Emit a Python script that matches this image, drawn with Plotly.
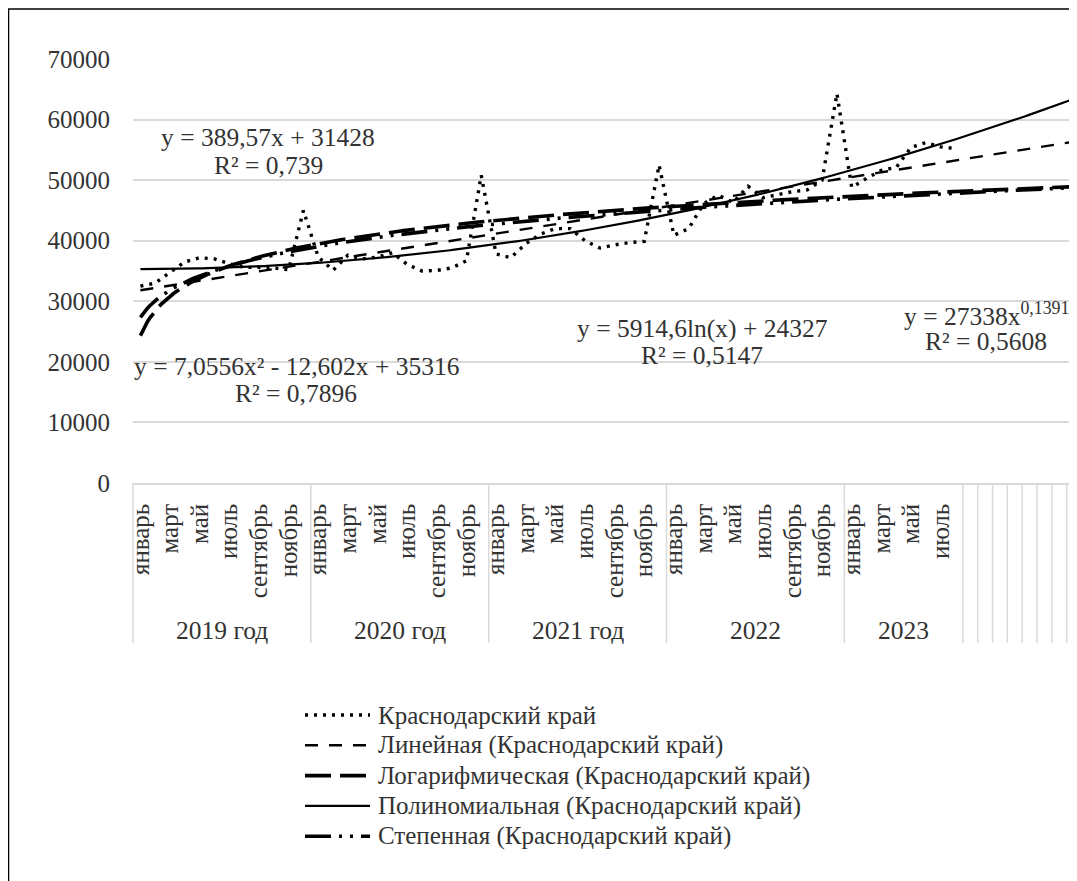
import numpy as np
import plotly.graph_objects as go

# данные: среднемесячные значения, Краснодарский край
years = ["2019 год", "2020 год", "2021 год", "2022", "2023"]
months = ["январь", "февраль", "март", "апрель", "май", "июнь",
          "июль", "август", "сентябрь", "октябрь", "ноябрь", "декабрь"]
values_2019 = [32500, 33000, 34800, 36500, 37200, 37000, 36200, 35600, 35600, 35500, 35200, 45000]
values_2020 = [37300, 35100, 37600, 37000, 37300, 38000, 36100, 35000, 35100, 35500, 36700, 50800]
values_2021 = [37800, 37200, 39500, 41100, 42000, 42000, 40000, 38800, 39300, 39700, 39900, 52500]
values_2022 = [40900, 42000, 46100, 47500, 46300, 49000, 47100, 47600, 48100, 48400, 50000, 64300]
values_2023 = [48800, 50300, 51600, 52100, 55400, 56200, 55500, 55200]
n_empty = 8  # пустые категории справа (прогнозный период)

# коэффициенты линий тренда (как подписаны на диаграмме)
lin_a, lin_b = 389.57, 31428
log_a, log_b = 5914.6, 24327
poly_a, poly_b, poly_c = 7.0556, -12.602, 35316
pow_a, pow_b = 27338, 0.1391

eq_lin = ["y = 389,57x + 31428", "R² = 0,739"]
eq_poly = ["y = 7,0556x² - 12,602x + 35316", "R² = 0,7896"]
eq_log = ["y = 5914,6ln(x) + 24327", "R² = 0,5147"]
eq_pow = ["y = 27338x<sup>0,1391</sup>", "R² = 0,5608"]

legend_names = ["Краснодарский край",
                "Линейная (Краснодарский край)",
                "Логарифмическая (Краснодарский край)",
                "Полиномиальная (Краснодарский край)",
                "Степенная (Краснодарский край)"]

groups = [values_2019, values_2020, values_2021, values_2022, values_2023]
values = [v for g in groups for v in g]
x = np.arange(1, len(values) + 1)

# страница сдвигает рисунок на 8px (отступ body), пересчитываем экранные пиксели
OFF = 8
W, H = 1077, 881
PLOT_L, PLOT_R, PLOT_T, PLOT_B = 133, 1077, 59, 483
ML, MT = PLOT_L - OFF, PLOT_T - OFF
MR = W - (PLOT_R - OFF)
MB = H - (PLOT_B - OFF)
PW, PH = PLOT_R - PLOT_L, PLOT_B - PLOT_T
X_MAX = 64.2

FONT = "Liberation Serif, Times New Roman, serif"
FS = 25.5
TXT = "#333333"
GRID = "#d9d9d9"


def px_x(p):
    return (p - PLOT_L) / PW


def px_y(p):
    return (PLOT_B - p) / PH


def cat_x(c):
    return (c - 0.5) / (X_MAX - 0.5)


styles = {
    "data": dict(color="black", width=3.4, dash="3px,6px"),
    "lin": dict(color="black", width=2.4, dash="13px,11px"),
    "log": dict(color="black", width=3.6, dash="26px,9px"),
    "poly": dict(color="black", width=2.2),
    "pow": dict(color="black", width=3.6, dash="26px,8px,3px,8px,3px,8px"),
}

xf = np.linspace(1, X_MAX, 400)
trend = {
    "lin": lin_a * xf + lin_b,
    "log": log_a * np.log(xf) + log_b,
    "poly": poly_a * xf ** 2 + poly_b * xf + poly_c,
    "pow": pow_a * xf ** pow_b,
}

fig = go.Figure()
for key in ["pow", "log", "lin", "poly"]:
    fig.add_trace(go.Scatter(x=xf, y=trend[key], mode="lines",
                             line=styles[key], showlegend=False, hoverinfo="skip"))
fig.add_trace(go.Scatter(x=x, y=values, mode="lines", line=styles["data"],
                         showlegend=False, name=legend_names[0]))

# подписи месяцев (через один) и группы по годам
tickvals, ticktext = [], []
bounds = [0.5]
pos = 0
for g in groups:
    for i in range(len(g)):
        if i % 2 == 0:
            tickvals.append(pos + i + 1)
            ticktext.append(months[i])
    pos += len(g)
    bounds.append(pos + 0.5)
for k in range(1, n_empty):
    bounds.append(pos + k + 0.5)

shapes = []
y_bot = px_y(643)
for b in bounds:
    shapes.append(dict(type="line", xref="paper", yref="paper",
                       x0=cat_x(b), x1=cat_x(b), y0=0, y1=y_bot,
                       line=dict(color=GRID, width=1.5)))

annotations = []
start = 0
for name, g in zip(years, groups):
    mid = start + (len(g) + 1) / 2
    annotations.append(dict(x=cat_x(mid), y=px_y(630), xref="paper", yref="paper",
                            xanchor="center", yanchor="middle",
                            text=name, showarrow=False,
                            font=dict(size=FS, color=TXT, family=FONT)))
    start += len(g)

# уравнения трендов
for lines, cx, ys in [(eq_lin, 268, (137, 165)), (eq_poly, 296, (366, 393)),
                      (eq_log, 702, (328, 355)), (eq_pow, 986, (314, 341))]:
    for t, yy in zip(lines, ys):
        annotations.append(dict(x=px_x(cx), y=px_y(yy), xref="paper", yref="paper",
                                xanchor="center", yanchor="middle",
                                text=t, showarrow=False,
                                font=dict(size=FS, color=TXT, family=FONT)))

# легенда
leg_keys = ["data", "lin", "log", "poly", "pow"]
for i, (name, key) in enumerate(zip(legend_names, leg_keys)):
    yy = 715 + i * 30.3
    shapes.append(dict(type="line", xref="paper", yref="paper",
                       x0=px_x(305), x1=px_x(370), y0=px_y(yy), y1=px_y(yy),
                       line=dict(styles[key])))
    annotations.append(dict(x=px_x(376), y=px_y(yy), xref="paper", yref="paper",
                            xanchor="left", yanchor="middle", text=name, showarrow=False,
                            font=dict(size=FS - 0.5, color=TXT, family=FONT)))

# рамка диаграммы
shapes.append(dict(type="rect", xref="paper", yref="paper",
                   x0=px_x(8.5), x1=px_x(W + 30), y0=px_y(H + 30), y1=px_y(9),
                   line=dict(color="black", width=1.5), layer="below"))

fig.update_layout(
    width=W, height=H,
    margin=dict(l=ML, r=MR, t=MT, b=MB),
    paper_bgcolor="white", plot_bgcolor="white",
    font=dict(family=FONT, size=FS, color=TXT),
    shapes=shapes, annotations=annotations,
    xaxis=dict(range=[0.5, X_MAX], tickvals=tickvals, ticktext=ticktext,
               tickangle=-90, showgrid=False, zeroline=False,
               showline=True, linecolor=GRID, linewidth=1.5,
               ticks="", ticklabelstandoff=9,
               tickfont=dict(size=FS - 0.5, color=TXT, family=FONT)),
    yaxis=dict(range=[0, 70000], dtick=10000, tickformat="d",
               showgrid=True, gridcolor=GRID, gridwidth=1.5,
               zeroline=False, showline=False, ticks="",
               ticklabelstandoff=22,
               tickfont=dict(size=FS - 0.5, color=TXT, family=FONT)),
)

fig.write_html("out.html")
